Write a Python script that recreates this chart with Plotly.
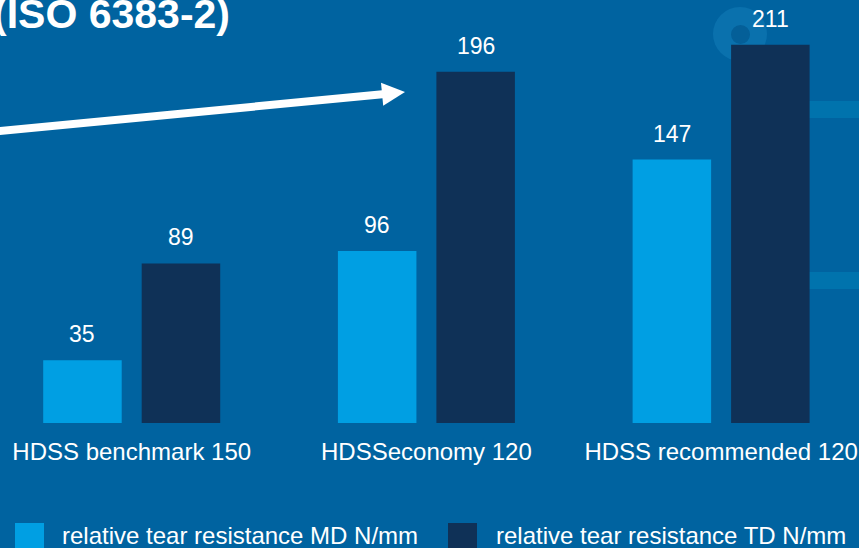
import plotly.graph_objects as go

categories = ["HDSS benchmark 150", "HDSSeconomy 120", "HDSS recommended 120"]
md_values = [35, 96, 147]
td_values = [89, 196, 211]
series_names = ["relative tear resistance MD N/mm", "relative tear resistance TD N/mm"]
title_text = "(ISO 6383-2)"

BG = "#0063a0"
LIGHT = "#009fe3"
DARK = "#0f3157"
FONT = "Liberation Sans, Arial, sans-serif"

W, H = 859, 548
PLOT_BOTTOM = 423  # px


def px(x):
    return x / W


def py(y):
    return (PLOT_BOTTOM - y) / PLOT_BOTTOM


BAR_W = 0.2664
OFF_MD = -0.3003
OFF_TD = 0.0339

fig = go.Figure()
fig.add_trace(go.Bar(x=categories, y=md_values, name=series_names[0], marker_color=LIGHT,
                     marker_line_width=0, width=BAR_W, offset=OFF_MD, showlegend=False, hoverinfo="skip"))
fig.add_trace(go.Bar(x=categories, y=td_values, name=series_names[1], marker_color=DARK,
                     marker_line_width=0, width=BAR_W, offset=OFF_TD, showlegend=False, hoverinfo="skip"))

annotations = []
pxcat = 294.7
for cat, v in zip(categories, md_values):
    annotations.append(dict(x=cat, y=v, xref="x", yref="y", text=str(v), showarrow=False,
                            xanchor="center", yanchor="bottom",
                            xshift=(OFF_MD + BAR_W / 2) * pxcat, yshift=11,
                            font=dict(size=23, color="white", family=FONT)))
for cat, v in zip(categories, td_values):
    annotations.append(dict(x=cat, y=v, xref="x", yref="y", text=str(v), showarrow=False,
                            xanchor="center", yanchor="bottom",
                            xshift=(OFF_TD + BAR_W / 2) * pxcat, yshift=11,
                            font=dict(size=23, color="white", family=FONT)))

# title fragment
annotations.append(dict(x=px(232), y=py(14), xref="paper", yref="paper", text="<b>" + title_text + "</b>",
                        showarrow=False, xanchor="right", yanchor="middle",
                        font=dict(size=41, color="white", family=FONT)))

# legend texts
annotations.append(dict(x=px(60), y=py(535), xref="paper", yref="paper", text=series_names[0],
                        showarrow=False, xanchor="left", yanchor="middle",
                        font=dict(size=24, color="white", family=FONT)))
annotations.append(dict(x=px(494), y=py(535), xref="paper", yref="paper", text=series_names[1],
                        showarrow=False, xanchor="left", yanchor="middle",
                        font=dict(size=24, color="white", family=FONT)))

shapes = []
# decorative ring
shapes.append(dict(type="circle", xref="paper", yref="paper", x0=px(713), x1=px(767), y0=py(7), y1=py(61),
                   fillcolor="#0a71ad", line_width=0, layer="below"))
shapes.append(dict(type="circle", xref="paper", yref="paper", x0=px(731), x1=px(750), y0=py(25), y1=py(44),
                   fillcolor="#045f98", line_width=0, layer="below"))
# decorative bands on the right
for y0, y1 in [(101, 118), (272, 289)]:
    shapes.append(dict(type="rect", xref="paper", yref="paper", x0=px(800), x1=px(860), y0=py(y0), y1=py(y1),
                       fillcolor="#0073ad", line_width=0, layer="below"))

# arrow
shapes.append(dict(type="line", xref="paper", yref="paper", x0=px(-5), y0=py(131.5), x1=px(385), y1=py(94),
                   line=dict(color="white", width=8)))
shapes.append(dict(type="path", xref="paper", yref="paper",
                   path=f"M {px(405)},{py(92)} L {px(383.2)},{py(105.8)} L {px(381.0)},{py(82.8)} Z",
                   fillcolor="white", line_width=0))

# legend swatches
shapes.append(dict(type="rect", xref="paper", yref="paper", x0=px(15), x1=px(44), y0=py(523), y1=py(555),
                   fillcolor=LIGHT, line_width=0))
shapes.append(dict(type="rect", xref="paper", yref="paper", x0=px(448), x1=px(477), y0=py(523), y1=py(555),
                   fillcolor=DARK, line_width=0))

fig.update_layout(
    width=W, height=H,
    margin=dict(l=0, r=0, t=0, b=H - PLOT_BOTTOM, pad=0),
    paper_bgcolor=BG, plot_bgcolor="rgba(0,0,0,0)",
    barmode="group",
    showlegend=False,
    annotations=annotations,
    shapes=shapes,
    font=dict(family=FONT, color="white", size=23),
    xaxis=dict(type="category", range=[-0.4469, 2.4679], showgrid=False, zeroline=False, showline=False,
               ticks="", ticklabelstandoff=12, tickfont=dict(size=24, color="white", family=FONT)),
    yaxis=dict(range=[0, 236], visible=False, showgrid=False, zeroline=False),
)

fig.write_html("out.html", config={"displayModeBar": False, "staticPlot": True},
               post_script="document.body.style.margin='0';document.body.style.overflow='hidden';")
